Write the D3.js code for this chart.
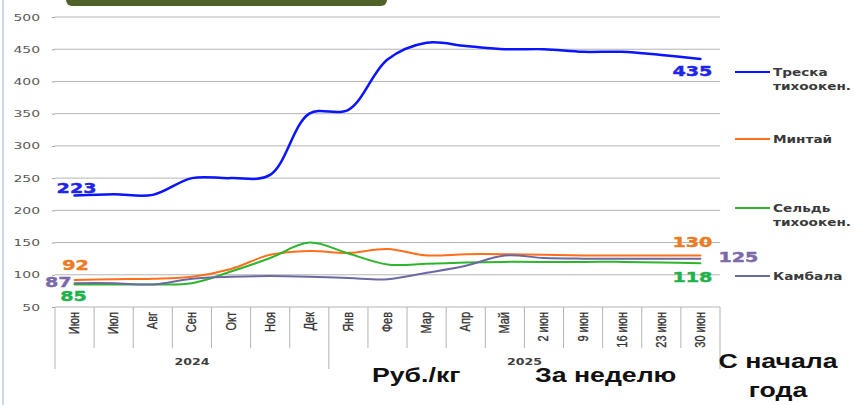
<!DOCTYPE html>
<html>
<head>
<meta charset="utf-8">
<title>fish prices</title>
<style>
body { margin: 0; background: #fff; }
svg { display: block; }
.ylab { font-family: "DejaVu Sans", sans-serif; font-size: 9px; fill: #595959; }
.mlab { font-family: "Liberation Sans", Arial, sans-serif; font-size: 11px; fill: #333; }
.yr { font-family: "DejaVu Sans", sans-serif; font-size: 9px; font-weight: bold; fill: #404040; }
.val { font-family: "DejaVu Sans", sans-serif; font-size: 13.5px; font-weight: bold; }
.leg { font-family: "DejaVu Sans", sans-serif; font-size: 10.5px; font-weight: bold; fill: #3a3a3a; }
.note { font-family: "Liberation Sans", Arial, sans-serif; font-size: 21px; font-weight: bold; fill: #111; }
</style>
</head>
<body>
<svg width="855" height="405"></svg>
<script src="https://d3js.org/d3.v7.min.js"></script>
<script>
// categories
const months = ["Июн", "Июл", "Авг", "Сен", "Окт", "Ноя", "Дек", "Янв", "Фев", "Мар", "Апр", "Май",
    "2 июн", "9 июн", "16 июн", "23 июн", "30 июн"];
const years = ["2024", "2025"];
const yearSizes = [7, 10];
const yTicks = [50, 100, 150, 200, 250, 300, 350, 400, 450, 500];

// prices, rub/kg
const cod      = [223, 225, 224, 250, 250, 255, 350, 356, 434, 460, 455, 450, 450, 446, 446, 441, 435];
const pollock  = [92, 93, 94, 97, 109, 131, 137, 134, 140, 130, 132, 132, 131, 130, 130, 130, 130];
const herring  = [85, 85, 85, 87, 105, 126, 150, 133, 116, 117, 119, 120, 120, 120, 120, 119, 118];
const flounder = [87, 87, 85, 94, 97, 98, 97, 95, 93, 103, 114, 130, 126, 125, 125, 125, 125];

const names = [["Треска", "тихоокен."], ["Минтай"], ["Сельдь", "тихоокен."], ["Камбала"]];
const notes = ["Руб./кг", "За неделю", "С начала", "года"];

const svg = d3.select("svg");

const x = d3.scaleBand().domain(months).range([55, 720]);
const y = d3.scaleLinear().domain([50, 500]).range([307, 17]);
const cx = d => x(d) + x.bandwidth() / 2;

// stretched text, the picture is wider than the original
function wtext(g, px, py, txt, sx, anchor, cls) {
    return g.append("text")
        .attr("class", cls)
        .attr("text-anchor", anchor)
        .attr("transform", "translate(" + px + "," + py + ") scale(" + sx + ",1)")
        .text(txt);
}

// frame edge and header bar
svg.append("line").attr("x1", 3).attr("x2", 3).attr("y1", 0).attr("y2", 405)
    .attr("stroke", "#c9d8ec").attr("stroke-width", 2);
svg.append("rect").attr("x", 66).attr("y", -12).attr("width", 321).attr("height", 18)
    .attr("rx", 6).attr("fill", "#4f6228");

// grid
svg.append("g").selectAll("line").data(yTicks).enter().append("line")
    .attr("x1", 55).attr("x2", 720)
    .attr("y1", d => y(d)).attr("y2", d => y(d))
    .attr("stroke", "#b4b4b4").attr("stroke-width", 1);

// y axis
let ya = svg.append("g").attr("transform", "translate(55,0)")
    .call(d3.axisLeft(y).tickValues(yTicks).tickSize(3).tickFormat(d3.format("d")));
ya.select(".domain").remove();
ya.selectAll(".tick line").attr("stroke", "#a0a0a0");
ya.selectAll(".tick text").remove();
ya.selectAll(".tick").each(function(d) {
    wtext(d3.select(this), -15, 3, d, 1.55, "end", "ylab");
});

// category axis
let xa = svg.append("g");
let bounds = months.map(d => x(d)).concat([720]);
let groupEdges = [55, x(months[7]), 720];
xa.selectAll("line.b").data(bounds).enter().append("line")
    .attr("x1", d => d).attr("x2", d => d)
    .attr("y1", 307)
    .attr("y2", d => groupEdges.indexOf(d) >= 0 ? 369 : 348)
    .attr("stroke", "#b4b4b4");
xa.selectAll("text.m").data(months).enter().append("text")
    .attr("class", "mlab")
    .attr("text-anchor", "end")
    .attr("stroke", "#333").attr("stroke-width", 0.25)
    .attr("transform", d => "translate(" + (cx(d) + 4.5) + ",312) scale(1.25,1) rotate(-90)")
    .text(d => d);
let start = 0;
years.forEach(function(yr, i) {
    let a = x(months[start]);
    let b = start + yearSizes[i] < months.length ? x(months[start + yearSizes[i]]) : 720;
    wtext(xa, (a + b) / 2, 365, yr, 1.4, "middle", "yr");
    start += yearSizes[i];
});

// lines
const series = [
    { v: cod, c: "#0a14ff", w: 2.5, lc: "#1f25e6" },
    { v: pollock, c: "#ff6f1a", w: 2, lc: "#ee7a22" },
    { v: herring, c: "#2eb52e", w: 2, lc: "#20b24a" },
    { v: flounder, c: "#6c69a2", w: 2, lc: "#7a6aa8" }
];
const line = d3.line()
    .x((d, i) => cx(months[i]))
    .y(d => y(d))
    .curve(d3.curveCatmullRom.alpha(0.5));
svg.append("g").selectAll("path").data(series).enter().append("path")
    .attr("d", d => line(d.v))
    .attr("fill", "none")
    .attr("stroke", d => d.c)
    .attr("stroke-width", d => d.w)
    .attr("stroke-linecap", "round");

// first / last value labels
let vl = svg.append("g");
let x0 = cx(months[0]), x1 = cx(months[months.length - 1]);
function vlab(px, py, v, s, anchor) {
    wtext(vl, px, py, v, 1.42, anchor, "val").attr("fill", s.lc)
        .attr("stroke", s.lc).attr("stroke-width", 0.4);
}
vlab(x0 + 2, y(cod[0]) - 3, cod[0], series[0], "middle");
vlab(x0 + 1, y(pollock[0]) - 10, pollock[0], series[1], "middle");
vlab(x0 - 3, y(flounder[0]) + 4, flounder[0], series[3], "end");
vlab(x0 - 1, y(herring[0]) + 17, herring[0], series[2], "middle");
vlab(x1 - 8, y(cod[16]) + 17, cod[16], series[0], "middle");
vlab(x1 - 8, y(pollock[16]) - 8, pollock[16], series[1], "middle");
vlab(x1 + 18, y(flounder[16]) + 3, flounder[16], series[3], "start");
vlab(x1 - 8, y(herring[16]) + 19, herring[16], series[2], "middle");

// legend
const legY = [72, 139, 208, 276];
let lg = svg.append("g");
series.forEach(function(s, i) {
    lg.append("line").attr("x1", 735).attr("x2", 770)
        .attr("y1", legY[i]).attr("y2", legY[i])
        .attr("stroke", s.c).attr("stroke-width", 2);
    names[i].forEach(function(t, j) {
        wtext(lg, 773, legY[i] + 4 + j * 14, t, 1.3, "start", "leg");
    });
});

// notes under the chart
wtext(svg, 372, 382, notes[0], 1.27, "start", "note");
wtext(svg, 535, 382, notes[1], 1.27, "start", "note");
wtext(svg, 778, 368, notes[2], 1.27, "middle", "note");
wtext(svg, 778, 397, notes[3], 1.27, "middle", "note");
</script>
</body>
</html>
